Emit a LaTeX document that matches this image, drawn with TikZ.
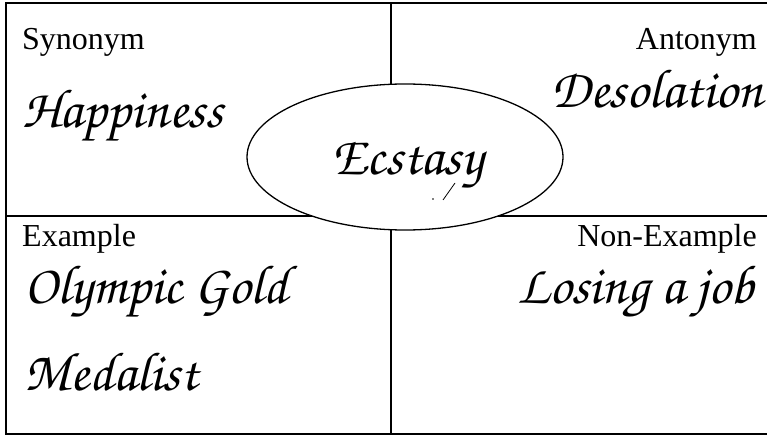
\documentclass[tikz,border=0pt]{standalone}
\usepackage{fontspec}
\setmainfont{Liberation Serif}
\usepackage[T1,TU]{fontenc}
\usetikzlibrary{shapes.geometric}

% handwritten looking font for the answers
\newcommand\handfont{\fontencoding{T1}\fontfamily{pzc}\fontseries{mb}\fontshape{it}\selectfont}

\begin{document}
\begin{tikzpicture}[x=1pt,y=-1pt,
    label/.style={font=\fontsize{32}{36}\selectfont, inner sep=0},
    answer/.style={font=\fontsize{55}{60}\handfont, inner sep=0}]
    \useasboundingbox (0,0) rectangle (767,435);
    \clip (0,0) rectangle (767,435);

    % the four boxes
    \draw[line width=2pt] (6,3) rectangle (790,434);
    \draw[line width=2pt] (391,3) -- (391,434);
    \draw[line width=2pt] (6,216) -- (790,216);

    % the word in the middle
    \node[draw, ellipse, fill=white, line width=1.3pt, minimum width=316pt, minimum height=146pt] (word) at (405,157) {};
    \node[answer, anchor=base] (wordtext) at (408,175) {Ecstasy};
    \fill (433,199) circle (0.8pt);
    \draw[line width=0.8pt] (443,200) -- (455,183);

    % the labels of the boxes
    \node[label, anchor=base west] (syn) at (22,50) {Synonym};
    \node[label, anchor=base east] (ant) at (757,50) {Antonym};
    \node[label, anchor=base west] (ex) at (22,247) {Example};
    \node[label, anchor=base east] (nonex) at (757,247) {Non-Example};

    % the answers
    \node[answer, anchor=base west] (synword) at (22,128) {Happiness};
    \node[answer, anchor=base east] (antword) at (763,108) {Desolation};
    \node[answer, anchor=base west] (exwordA) at (24,303) {Olympic Gold};
    \node[answer, anchor=base west] (exwordB) at (24,390) {Medalist};
    \node[answer, anchor=base west] (nonexword) at (517,303) {Losing a job};
\end{tikzpicture}
\end{document}
